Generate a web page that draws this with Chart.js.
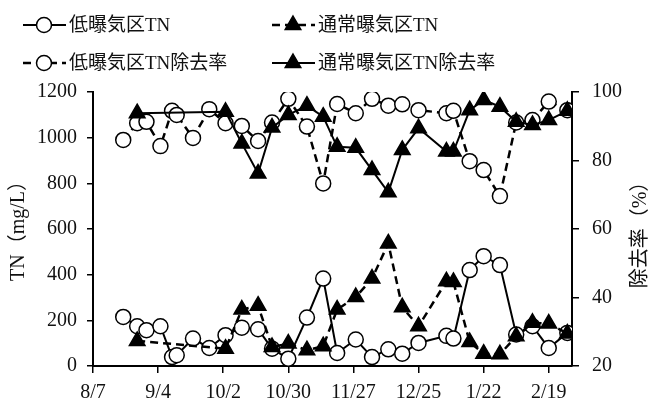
<!DOCTYPE html>
<html>
<head>
<meta charset="utf-8">
<script src="https://cdn.jsdelivr.net/npm/chart.js@4.4.1/dist/chart.umd.min.js"></script>
<style>
  body { margin: 0; background: #fff; }
</style>
</head>
<body>
<canvas id="myChart" width="658" height="403"></canvas>
<script>
// sampling dates (m/d, Aug -> Feb)
const dates = ["8/20","8/26","8/30","9/5","9/10","9/12","9/19","9/26","10/3","10/10","10/17","10/23","10/30","11/7","11/14","11/20","11/28","12/5","12/12","12/18","12/25","1/6","1/9","1/16","1/22","1/29","2/5","2/12","2/19","2/27"]
const tickDates = ["8/7","9/4","10/2","10/30","11/27","12/25","1/22","2/19"]
const axisEnd = "3/1"

// TN mg/L
const lowTN = [215,174,157,174,39,47,120,79,135,168,161,76,32,212,383,57,116,39,73,54,101,132,120,420,481,442,138,174,79,145]
const normalTN = [null,110,null,null,null,null,null,null,76,247,264,83,98,69,87,247,302,383,537,257,174,371,368,105,54,51,130,189,186,142]
// removal rate %
const lowRate = [86.0,90.9,91.3,84.2,94.5,93.3,86.6,95.0,90.9,90.1,85.7,91.1,98.0,89.9,73.3,96.5,93.8,98.0,96.0,96.4,94.7,93.8,94.5,79.8,77.2,69.6,91.1,91.8,97.2,94.7]
const normalRate = [null,93.8,null,null,null,null,null,null,94.2,85.0,76.2,89.6,93.3,96.0,92.8,84.0,83.7,77.2,70.7,83.1,89.4,82.6,82.6,94.7,97.7,95.7,91.3,90.4,91.8,94.5]

const names = ["低曝気区TN","通常曝気区TN","低曝気区TN除去率","通常曝気区TN除去率"]

// day number counted from 8/7
function toDay(s){
  const [m,d] = s.split("/").map(Number)
  const y = m >= 8 ? 2018 : 2019
  return (Date.UTC(y,m-1,d) - Date.UTC(2018,7,7)) / 86400000
}
function toLabel(v){
  const t = new Date(Date.UTC(2018,7,7) + v*86400000)
  return (t.getUTCMonth()+1) + "/" + t.getUTCDate()
}
function pts(arr){
  return dates.map((s,i) => ({x: toDay(s), y: arr[i]}))
}

const FONT = "'Liberation Serif', 'Noto Sans CJK JP', serif"

function makeSet(i, arr, axis, dashed, tri){
  return {
    label: names[i],
    data: pts(arr),
    yAxisID: axis,
    borderColor: "#000",
    borderWidth: dashed ? 2.5 : 2,
    borderDash: dashed ? [8,5] : [],
    pointStyle: tri ? "triangle" : "circle",
    pointRadius: tri ? 9 : 7.5,
    pointBorderWidth: 1.5,
    pointBackgroundColor: tri ? "#000" : "#fff",
    pointBorderColor: "#000",
    spanGaps: true,
    tension: 0,
    order: 3 - i
  }
}

// legend + axis titles drawn by hand
const extras = {
  id: "extras",
  afterDraw(chart){
    const c = chart.ctx
    c.save()
    chart.data.datasets.forEach((ds,i) => {
      const x0 = i % 2 ? 272 : 23
      const y = i < 2 ? 25 : 63
      c.strokeStyle = "#000"
      c.lineWidth = ds.borderWidth
      c.setLineDash(ds.borderDash)
      c.beginPath(); c.moveTo(x0,y); c.lineTo(x0+43,y); c.stroke()
      c.setLineDash([])
      const cx = x0 + 21
      c.lineWidth = 1.5
      c.beginPath()
      if (ds.pointStyle === "triangle") {
        const r = 9
        c.moveTo(cx, y-r); c.lineTo(cx+r*0.866, y+r/2); c.lineTo(cx-r*0.866, y+r/2); c.closePath()
        c.fillStyle = "#000"
      } else {
        c.arc(cx, y, 7.5, 0, Math.PI*2)
        c.fillStyle = "#fff"
      }
      c.fill(); c.stroke()
      c.fillStyle = "#111"
      c.font = "19px " + FONT
      c.textBaseline = "middle"
      c.textAlign = "left"
      c.fillText(ds.label, x0+46, y+1)
    })
    c.font = "20px " + FONT
    c.textAlign = "center"
    c.translate(19, 226); c.rotate(-Math.PI/2)
    c.fillText("TN（mg/L）", 0, 0)
    c.rotate(Math.PI/2); c.translate(-19, -226)
    c.translate(641, 230); c.rotate(-Math.PI/2)
    c.fillText("除去率（%）", 0, 0)
    c.restore()
  }
}

const ctx = document.getElementById("myChart")
const tickFont = {family: FONT, size: 20}

new Chart(ctx, {
  type: "line",
  data: {
    datasets: [
      makeSet(0, lowTN, "y", false, false),
      makeSet(1, normalTN, "y", true, true),
      makeSet(2, lowRate, "y1", true, false),
      makeSet(3, normalRate, "y1", false, true)
    ]
  },
  options: {
    responsive: false,
    animation: false,
    layout: { padding: {top: 92, left: 0, right: 0, bottom: 0} },
    plugins: {
      legend: { display: false },
      tooltip: { enabled: false }
    },
    scales: {
      x: {
        type: "linear",
        min: 0,
        max: toDay(axisEnd),
        afterBuildTicks: s => { s.ticks = tickDates.map(t => ({value: toDay(t)})) },
        afterFit: s => { s.height = 37 },
        ticks: { callback: v => toLabel(v), font: tickFont, color: "#111", padding: 8, maxRotation: 0 },
        grid: { drawOnChartArea: false, tickLength: 7, color: "#000", lineWidth: 1.5 },
        border: { color: "#000", width: 2 }
      },
      y: {
        position: "left",
        min: 0, max: 1200,
        ticks: { stepSize: 200, font: tickFont, color: "#111", padding: 10, callback: v => String(v) },
        afterFit: s => { s.width = 93 },
        grid: { drawOnChartArea: false, tickLength: 6, color: "#000", lineWidth: 1.5 },
        border: { color: "#000", width: 2 }
      },
      y1: {
        position: "right",
        min: 20, max: 100,
        ticks: { stepSize: 20, font: tickFont, color: "#111", padding: 13, callback: v => String(v) },
        afterFit: s => { s.width = 86 },
        grid: { drawOnChartArea: false, tickLength: 7, color: "#000", lineWidth: 1.5 },
        border: { color: "#000", width: 2 }
      }
    }
  },
  plugins: [extras]
})
</script>
</body>
</html>
